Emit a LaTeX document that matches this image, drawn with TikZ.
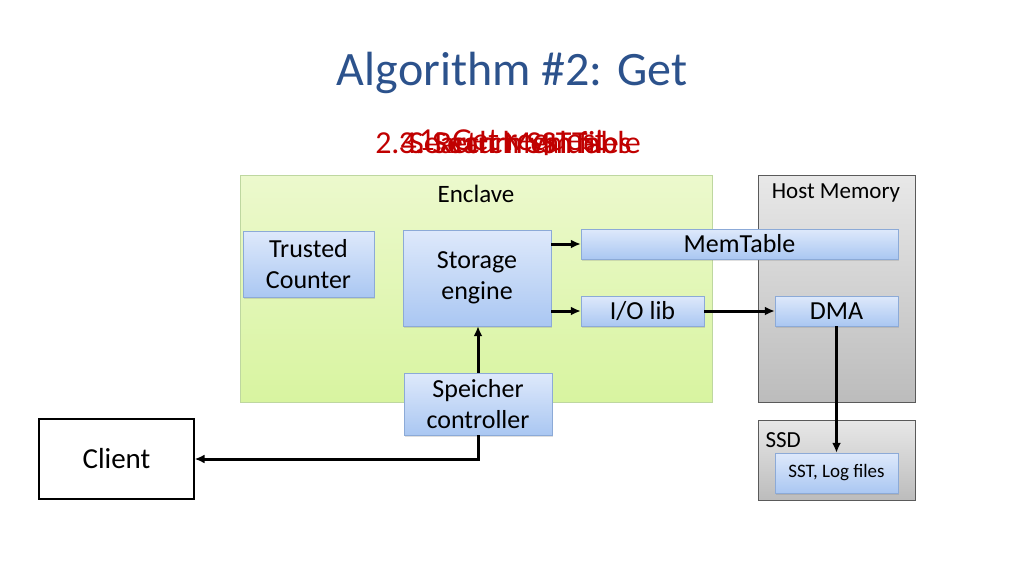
\documentclass[tikz,border=0pt]{standalone}
\usepackage{fontspec}
\setmainfont{Carlito}
\usetikzlibrary{arrows.meta,positioning,shadows}

\definecolor{titleblue}{RGB}{44,82,140}
\definecolor{stepred}{RGB}{192,0,0}
\definecolor{compTop}{RGB}{222,233,251}
\definecolor{compBot}{RGB}{170,199,242}
\definecolor{compEdge}{RGB}{140,170,215}
\definecolor{encTop}{RGB}{236,249,205}
\definecolor{encBot}{RGB}{216,244,160}
\definecolor{encEdge}{RGB}{190,215,160}
\definecolor{hostTop}{RGB}{232,232,232}
\definecolor{hostBot}{RGB}{188,188,188}
\definecolor{hostEdge}{RGB}{90,90,90}

\begin{document}
\begin{tikzpicture}[
  x=1pt,y=-1pt,
  font=\fontsize{26}{31}\selectfont,
  comp/.style={draw=compEdge,top color=compTop,bottom color=compBot,
               align=center,inner sep=0pt,
               drop shadow={opacity=0.25,shadow xshift=1pt,shadow yshift=-1.5pt}},
  enclave/.style={draw=encEdge,top color=encTop,bottom color=encBot,inner sep=0pt},
  host/.style={draw=hostEdge,top color=hostTop,bottom color=hostBot,inner sep=0pt},
  small/.style={font=\fontsize{23}{27}\selectfont},
  steptext/.style={text=stepred,font=\fontsize{32}{36}\selectfont},
  arrow/.style={-{Latex[length=10pt,width=9pt]},line width=3pt}
]
\useasboundingbox (0,0) rectangle (1024,576);

\node[text=titleblue,font=\fontsize{48}{56}\selectfont] (title) at (512,73) {Algorithm \#2: Get};

% the four steps are printed on top of one another
\node[steptext] (step1) at (512,143) {1. Get request};
\node[steptext] (step2) at (508,143) {2. Search MemTable};
\node[steptext] (step3) at (515,143) {3. Search SST files};
\node[steptext] (step4) at (500,143) {4. Return value};

% areas
\node[enclave,minimum width=472,minimum height=227] (enc) at (476,288.5) {};
\node[font=\fontsize{25}{30}\selectfont] (encl) at (476,194) {Enclave};
\node[host,minimum width=157,minimum height=227] (hostmem) at (836.5,288.5) {};
\node[small] (hostl) at (836,193) {Host Memory};
\node[host,minimum width=157,minimum height=80] (ssd) at (836.5,460) {};
\node[small,anchor=west] (ssdl) at (762,440) {SSD};

% components
\node[comp,minimum width=131,minimum height=66] (counter) at (308.5,264) {Trusted\\Counter};
\node[comp,minimum width=148,minimum height=96] (engine) at (477,278) {Storage\\engine};
\node[comp,minimum width=317,minimum height=30] (memtable) at (739.5,244) {MemTable};
\node[comp,minimum width=123,minimum height=30] (iolib) at (642.5,311) {I/O lib};
\node[comp,minimum width=123,minimum height=30] (dma) at (836.5,311) {DMA};
\node[comp,minimum width=148,minimum height=62] (ctrl) at (478,404) {Speicher\\controller};
\node[comp,minimum width=123,minimum height=40,font=\fontsize{19}{22}\selectfont] (sst) at (836.5,473) {SST, Log files};
\node[draw,fill=white,line width=1.2pt,minimum width=155,minimum height=80,font=\fontsize{29}{34}\selectfont] (client) at (116.5,459) {Client};

% connectors
\draw[arrow] (engine.east |- memtable) -- (memtable.west);
\draw[arrow] (engine.east |- iolib) -- (iolib.west);
\draw[arrow] (iolib.east) -- (dma.west);
\draw[arrow] (dma.south) -- (sst.north);
\draw[arrow] (ctrl.north) -- (ctrl.north |- engine.south);
\draw[arrow] (ctrl.south) |- (client.east);
\end{tikzpicture}
\end{document}
